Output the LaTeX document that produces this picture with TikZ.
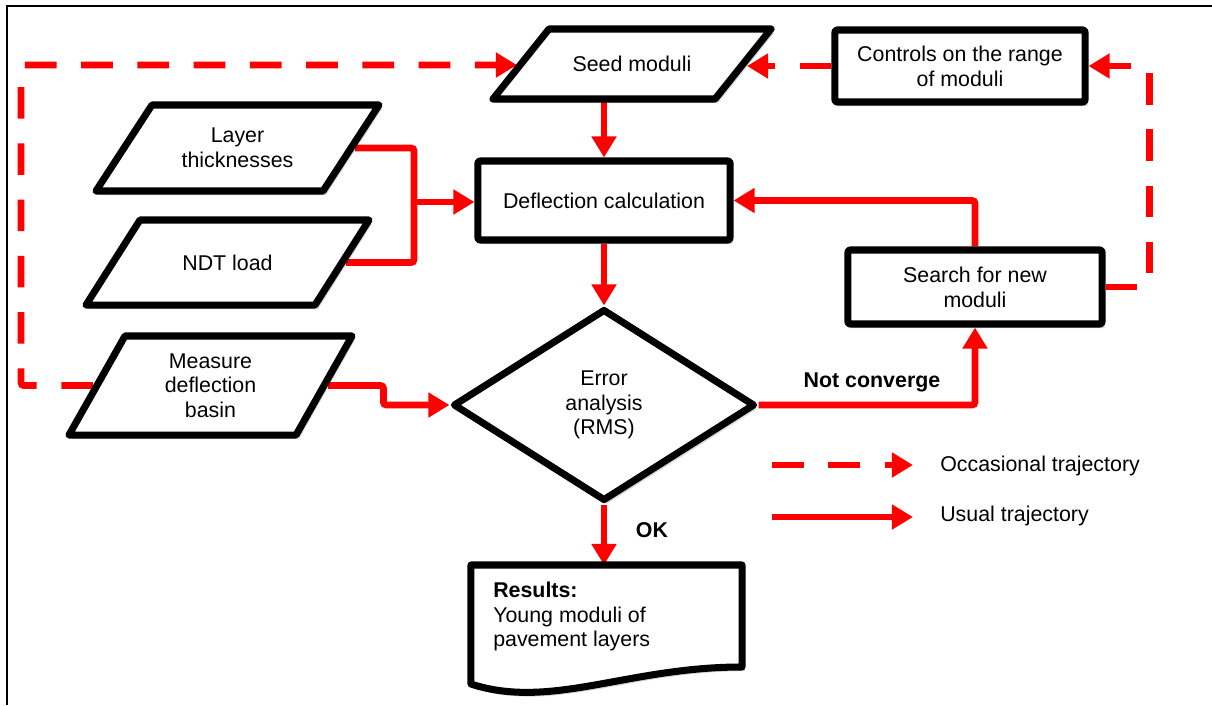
\documentclass[tikz,border=0pt]{standalone}
\usepackage{fontspec}
\setmainfont{Liberation Sans}
\usetikzlibrary{arrows.meta,calc,shapes.geometric,shadows}
\pgfdeclarelayer{links}
\pgfdeclarelayer{outlines}
\pgfsetlayers{links,outlines,main}

\tikzset{
  every node/.style={font=\fontsize{15.2}{17.6}\selectfont, inner sep=0pt},
  softshadow/.style={drop shadow={shadow xshift=2pt, shadow yshift=-3pt, fill=black, opacity=0.16}},
  boxline/.style={draw=black, line width=5pt, line join=round, fill=white, softshadow},
  procbox/.style={boxline, rectangle, rounded corners=1.5pt, align=center},
  holder/.style={inner sep=0pt, outer sep=0pt, align=center},
  flow/.style={draw=red, line width=4.8pt, rounded corners=2pt},
  usual/.style={flow, -{Triangle[length=15pt,width=17pt]}},
  occ/.style={flow, dash pattern=on 22.5pt off 17.5pt, -{Triangle[length=15pt,width=17pt]}},
}

% outline of an input/output parallelogram around a holder node;
% #1 = node name, #2 = half of the horizontal slant
\newcommand\slanted[2]{%
  \begin{pgfonlayer}{outlines}
    \path[boxline] ($(#1.north west)+(2*#2,0)$) -- (#1.north east)
      -- ($(#1.south east)-(2*#2,0)$) -- (#1.south west) -- cycle;
  \end{pgfonlayer}
  \coordinate (#1-e) at ($(#1.east)-(#2,0)+(4,0)$);
  \coordinate (#1-w) at ($(#1.west)+(#2,0)-(4,0)$);
  \coordinate (#1-s) at ($(#1.south)-(#2,0)$);
}

\begin{document}
\begin{tikzpicture}[x=0.025cm, y=-0.025cm]
\useasboundingbox (0,0) rectangle (1212,705);

% frame
\draw[line width=1.6pt] (7,705) -- (7,6) -- (1212,6);

% input parallelograms
\node[holder, minimum width=6.95cm, minimum height=1.75cm] (seed) at (632,64) {Seed moduli};
\slanted{seed}{28}
\node[holder, minimum width=7.075cm, minimum height=2.15cm] (layer) at (237.5,148) {Layer\\thicknesses};
\slanted{layer}{28}
\node[holder, minimum width=7.075cm, minimum height=2.125cm] (ndt) at (227.5,262.5) {NDT load};
\slanted{ndt}{27}
\node[holder, minimum width=7.075cm, minimum height=2.475cm] (meas) at (210.5,385.5) {Measure\\deflection\\basin};
\slanted{meas}{28}

% process boxes
\node[procbox, minimum width=6.3cm, minimum height=1.975cm] (defl) at (604,200.5) {Deflection calculation};
\node[procbox, minimum width=6.25cm, minimum height=1.8cm] (ctrl) at (960,66) {Controls on the range\\of moduli};
\node[procbox, minimum width=6.35cm, minimum height=1.85cm] (search) at (975,287) {Search for new\\moduli};

% decision
\node[boxline, diamond, minimum width=7.55cm, minimum height=4.8cm, align=center] (dia) at (604,405) {Error\\analysis\\(RMS)};

% document with wavy bottom
\node[holder, minimum width=6.775cm, minimum height=2.975cm] (res) at (606.5,624.5) {};
\begin{pgfonlayer}{outlines}
  \path[boxline] (res.north west) -- (res.north east) -- ($(res.north east)+(0,102)$)
    .. controls ($(res.north east)+(-115,102)$) and ($(res.south west)+(80,26)$) .. (res.south west) -- cycle;
\end{pgfonlayer}
\node[anchor=west, align=left] (restext) at (493,616.5) {\textbf{Results:}\\Young moduli of\\pavement layers};

% usual trajectory
\coordinate (join) at (414,202);
\coordinate (corner) at (21,65);
\begin{pgfonlayer}{links}
  \draw[usual] (seed-s) -- (seed-s |- defl.north);
  \draw[flow] (layer-e) -| (join);
  \draw[flow] (ndt-e) -| (join);
  \draw[usual] (join) -- (join -| defl.west);
  \draw[usual] (defl.south) -- (dia.north);
  \draw[usual] (meas-e) -| ($(dia.west)+(-66,0)$) -- (dia.west);
  \draw[usual] (dia.east) -| (search.south);
  \draw[usual] (search.north) |- (defl.east);
  \draw[usual] (dia.south) -- (dia.south |- res.north);
  % occasional trajectory
  \draw[occ] (search.east) -- ++(44,0) |- (ctrl.east);
  \draw[occ] (ctrl.west) -- (ctrl.west -| seed-e);
  \draw[occ] (meas-w) -| (corner) -- (corner -| seed-w);
\end{pgfonlayer}

\node (nc) at (872,382) {\textbf{Not converge}};
\node (ok) at (652,530) {\textbf{OK}};

% legend
\coordinate (la1) at (772,465);
\coordinate (la2) at (913,465);
\coordinate (lb1) at (772,517);
\coordinate (lb2) at (913,517);
\draw[occ] (la1) -- (la2);
\draw[usual] (lb1) -- (lb2);
\node[anchor=west] (lt1) at (940,466) {Occasional trajectory};
\node[anchor=west] (lt2) at (940,516) {Usual trajectory};
\end{tikzpicture}
\end{document}
